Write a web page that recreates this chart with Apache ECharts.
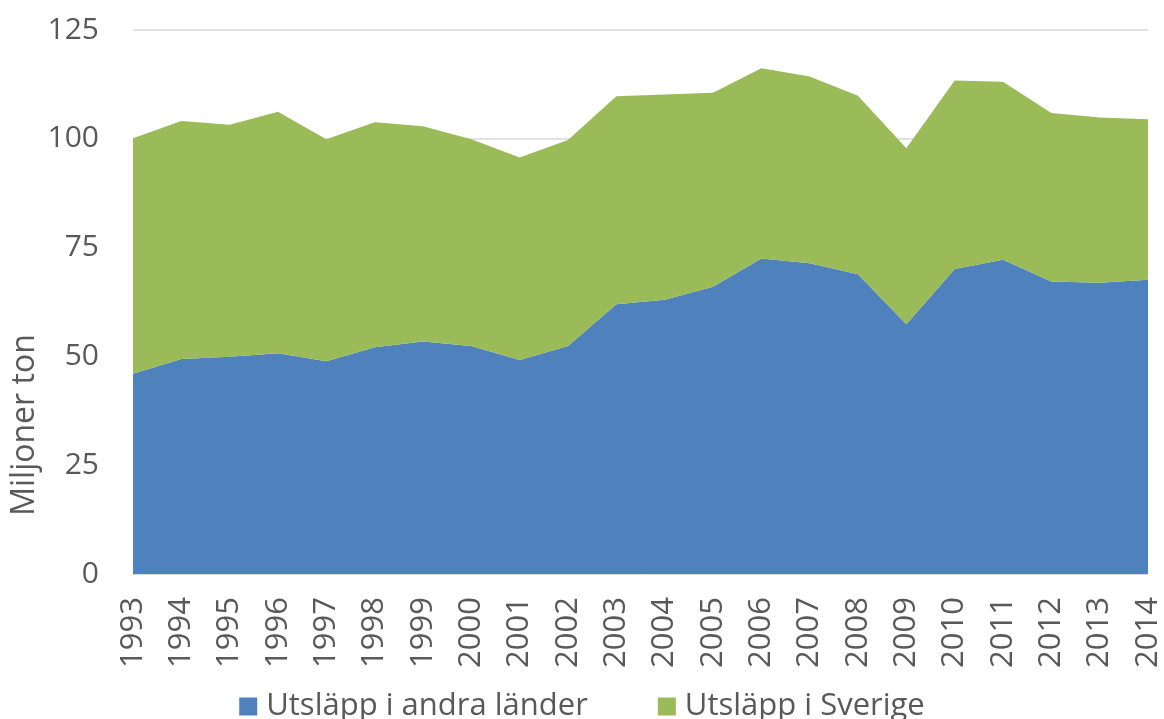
<!DOCTYPE html>
<html>
<head>
<meta charset="utf-8">
<script src="https://cdn.jsdelivr.net/npm/echarts@6/dist/echarts.min.js"></script>
<style>html,body{margin:0;padding:0;background:#fff}#c{width:1164px;height:719px}</style>
</head>
<body>
<div id="c"></div>
<script>
const years = ['1993','1994','1995','1996','1997','1998','1999','2000','2001','2002','2003','2004','2005','2006','2007','2008','2009','2010','2011','2012','2013','2014'];
const andraLander = [46.0,49.4,49.9,50.7,48.9,52.1,53.4,52.4,49.2,52.4,62.0,63.0,66.0,72.5,71.4,68.9,57.4,70.1,72.2,67.2,66.9,67.6];
const totalEmission = [100.1,104.1,103.2,106.2,99.9,103.8,102.9,99.9,95.7,99.7,109.8,110.2,110.6,116.2,114.3,109.9,97.8,113.4,113.1,105.9,104.9,104.5];
const sverige = totalEmission.map((t, i) => +(t - andraLander[i]).toFixed(1));
const seriesNames = ['Utsläpp i andra länder', 'Utsläpp i Sverige'];
const yAxisTitle = 'Miljoner ton';

const font = 'Open Sans';
const txt = '#595959';
const chart = echarts.init(document.getElementById('c'));
chart.setOption({
  animation: false,
  grid: {left: 133, right: 16, top: 30, bottom: 145},
  legend: {
    bottom: -8, left: 'center',
    itemWidth: 18, itemHeight: 18, itemGap: 70,
    icon: 'rect',
    textStyle: {fontFamily: font, fontSize: 31, color: txt, padding: [0,0,0,4]},
    data: seriesNames
  },
  xAxis: {
    type: 'category', data: years, boundaryGap: false,
    axisLine: {lineStyle: {color: '#D9D9D9'}},
    axisTick: {show: false},
    axisLabel: {rotate: 90, interval: 0, margin: 23, fontFamily: font, fontSize: 31, color: txt}
  },
  yAxis: {
    type: 'value', min: 0, max: 125, interval: 25,
    axisLine: {show: false}, axisTick: {show: false},
    splitLine: {lineStyle: {color: '#D9D9D9', width: 1.5}},
    axisLabel: {margin: 34, fontFamily: font, fontSize: 30, color: txt}
  },
  graphic: [{
    type: 'text', x: 25, y: 425, rotation: Math.PI / 2,
    style: {text: yAxisTitle, fontFamily: font, fontSize: 32, fill: txt, align: 'center', verticalAlign: 'middle'}
  }],
  series: [
    {name: seriesNames[0], type: 'line', stack: 'total', data: andraLander, symbol: 'none',
     lineStyle: {width: 0}, areaStyle: {color: '#4F81BD', opacity: 1}, itemStyle: {color: '#4F81BD'}},
    {name: seriesNames[1], type: 'line', stack: 'total', data: sverige, symbol: 'none',
     lineStyle: {width: 0}, areaStyle: {color: '#9BBB59', opacity: 1}, itemStyle: {color: '#9BBB59'}}
  ]
});
</script>
</body>
</html>
